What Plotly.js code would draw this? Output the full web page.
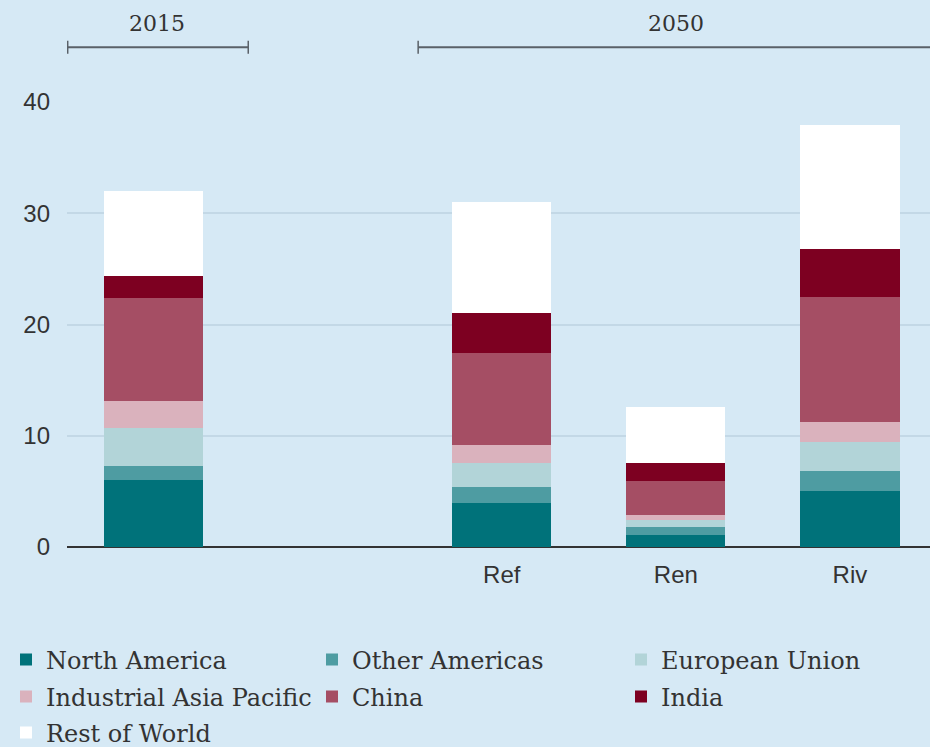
<!DOCTYPE html>
<html>
<head>
<meta charset="utf-8">
<script src="https://cdn.plot.ly/plotly-3.0.1.min.js"></script>
<style>
  body { margin: 0; background: #d6e9f5; }
  #plot { width: 930px; height: 747px; }
</style>
</head>
<body>
<div id="plot"></div>
<script>
// bar slots: 2015 sits alone, one empty slot, then the three 2050 scenarios
const barNames = ['2015', 'Ref', 'Ren', 'Riv'];
const barSlots = [0, 2, 3, 4];
const tickLabels = ['Ref', 'Ren', 'Riv'];
const tickSlots = [2, 3, 4];

const northAmerica = [6.0, 3.96, 1.05, 5.03];
const otherAmericas = [1.26, 1.47, 0.72, 1.77];
const europeanUnion = [3.48, 2.09, 0.66, 2.64];
const industrialAsia = [2.4, 1.68, 0.45, 1.77];
const china = [9.2, 8.21, 3.02, 11.23];
const india = [2.04, 3.66, 1.69, 4.35];
const restOfWorld = [7.66, 9.94, 4.99, 11.11];

const serif = 'DejaVu Serif';
const sans = 'Liberation Sans';

function series(name, values, color, legendId) {
  return {
    type: 'bar',
    name: name,
    x: barSlots,
    y: values,
    text: barNames,
    textposition: 'none',
    legend: legendId,
    marker: { color: color, line: { width: 0 } },
    hoverinfo: 'none'
  };
}

const data = [
  series('North America', northAmerica, '#00727a', 'legend'),
  series('Other Americas', otherAmericas, '#4e9ca2', 'legend2'),
  series('European Union', europeanUnion, '#b2d4d8', 'legend3'),
  series('Industrial Asia Pacific', industrialAsia, '#dab2bd', 'legend4'),
  series('China', china, '#a54e64', 'legend5'),
  series('India', india, '#7d0021', 'legend6'),
  series('Rest of World', restOfWorld, '#ffffff', 'legend7')
];

// one legend box per entry so the three-column grid sits where the reference has it
function legendEntry(left, centerY) {
  return {
    orientation: 'h',
    xref: 'container',
    yref: 'container',
    x: left / 930,
    xanchor: 'left',
    y: 1 - centerY / 747,
    yanchor: 'middle',
    font: { family: serif, size: 24, color: '#333333' },
    bgcolor: 'rgba(0,0,0,0)'
  };
}
const colLeft = [6, 312, 621];
const rowMid = [660, 697, 733];

const bracketY = (547 - 47.3) / 445;
const tickHalf = 6.5 / 445;
const bracketColor = '#5a6168';
const xRange = [-0.497, 4.46];
const layout = {
  width: 930,
  height: 747,
  paper_bgcolor: '#d6e9f5',
  plot_bgcolor: '#d6e9f5',
  margin: { l: 67, r: 0, t: 102, b: 200 },
  barmode: 'stack',
  bargap: 0.43,
  showlegend: true,
  xaxis: {
    type: 'linear',
    range: xRange,
    tickvals: tickSlots,
    ticktext: tickLabels,
    showgrid: false,
    zeroline: false,
    ticks: '',
    ticklabelstandoff: 11,
    tickfont: { family: sans, size: 24, color: '#333333' }
  },
  yaxis: {
    range: [0, 40],
    tickvals: [0, 10, 20, 30, 40],
    showgrid: true,
    gridcolor: '#c3d8e6',
    gridwidth: 2,
    zeroline: true,
    zerolinecolor: '#333333',
    zerolinewidth: 2,
    ticks: '',
    ticklabelstandoff: 16,
    tickfont: { family: sans, size: 24, color: '#333333' }
  },
  legend: legendEntry(colLeft[0], rowMid[0]),
  legend2: legendEntry(colLeft[1], rowMid[0]),
  legend3: legendEntry(colLeft[2], rowMid[0]),
  legend4: legendEntry(colLeft[0], rowMid[1]),
  legend5: legendEntry(colLeft[1], rowMid[1]),
  legend6: legendEntry(colLeft[2], rowMid[1]),
  legend7: legendEntry(colLeft[0], rowMid[2]),
  shapes: [
    { type: 'line', xref: 'x', yref: 'paper', x0: xRange[0], x1: 0.544, y0: bracketY, y1: bracketY,
      line: { color: bracketColor, width: 2 } },
    { type: 'line', xref: 'x', yref: 'paper', x0: xRange[0] + 0.004, x1: xRange[0] + 0.004, y0: bracketY - tickHalf, y1: bracketY + tickHalf,
      line: { color: bracketColor, width: 1.5 } },
    { type: 'line', xref: 'x', yref: 'paper', x0: 0.544, x1: 0.544, y0: bracketY - tickHalf, y1: bracketY + tickHalf,
      line: { color: bracketColor, width: 1.5 } },
    { type: 'line', xref: 'x', yref: 'paper', x0: 1.52, x1: xRange[1], y0: bracketY, y1: bracketY,
      line: { color: bracketColor, width: 2 } },
    { type: 'line', xref: 'x', yref: 'paper', x0: 1.52, x1: 1.52, y0: bracketY - tickHalf, y1: bracketY + tickHalf,
      line: { color: bracketColor, width: 1.5 } }
  ],
  annotations: [
    { text: '2015', xref: 'x', yref: 'paper', x: 0.02, y: (547 - 23.5) / 445, yanchor: 'middle', showarrow: false,
      font: { family: serif, size: 22, color: '#333333' } },
    { text: '2050', xref: 'x', yref: 'paper', x: 3.0, y: (547 - 23.5) / 445, yanchor: 'middle', showarrow: false,
      font: { family: serif, size: 22, color: '#333333' } }
  ]
};

Plotly.newPlot('plot', data, layout, { displayModeBar: false, staticPlot: true });
</script>
</body>
</html>
